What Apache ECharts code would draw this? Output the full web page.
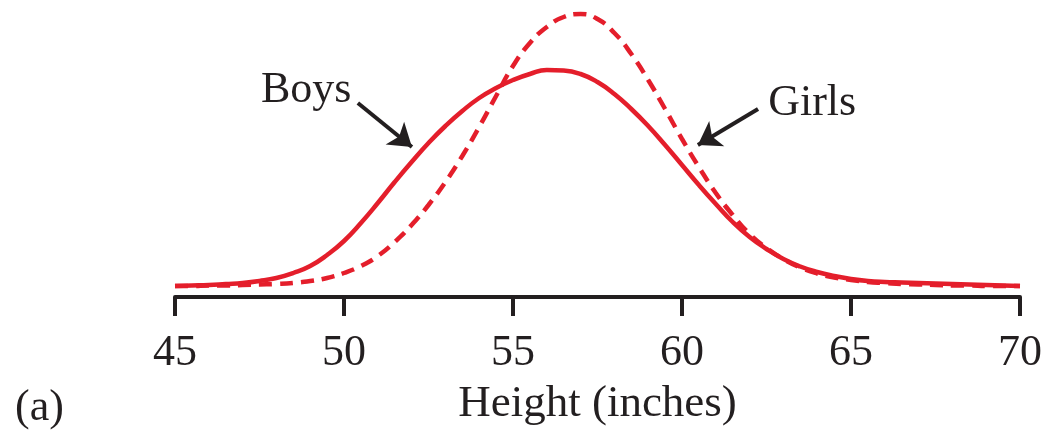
<!DOCTYPE html>
<html>
<head>
<meta charset="utf-8">
<style>
    html, body { margin: 0; padding: 0; overflow: hidden; background: #fff; }
</style>
</head>
<body>
<div id="chart" style="width:1051px; height:434px;"></div>
<script src="https://cdn.jsdelivr.net/npm/echarts@6/dist/echarts.min.js"></script>
<script>
    // heights in inches, read every half inch
    var heights = [45, 45.5, 46, 46.5, 47, 47.5, 48, 48.5, 49, 49.5,
                   50, 50.5, 51, 51.5, 52, 52.5, 53, 53.5, 54, 54.5,
                   55, 55.5, 56, 56.5, 57, 57.5, 58, 58.5, 59, 59.5,
                   60, 60.5, 61, 61.5, 62, 62.5, 63, 63.5, 64, 64.5,
                   65, 65.5, 66, 66.5, 67, 67.5, 68, 68.5, 69, 69.5, 70];
    // relative frequency (arbitrary units)
    var boys = [0, 0.5, 1, 2, 3, 5, 8, 13, 20, 31,
                45, 63, 83, 104, 124, 143, 160, 175, 188, 198,
                206, 212, 216, 215.5, 212, 204, 192, 177, 160, 141,
                121, 101, 82, 64, 49, 37, 27, 19.5, 14, 10,
                7, 5, 4, 3.5, 3, 2.5, 2, 1.5, 1, 0.5, 0];
    var girls = [0, 0, 0.5, 0.5, 1, 1.5, 2, 3, 5, 8,
                 13, 20, 30, 44, 61, 81, 104, 130, 159, 190,
                 220, 243, 259, 269, 272, 267, 253, 232, 206, 177,
                 147, 119, 93, 71, 52, 38, 27, 18.5, 12.5, 8.5,
                 6, 4, 3, 2, 1.5, 1, 0.5, 0.5, 0, 0, 0];
    var tickLabels = [45, 50, 55, 60, 65, 70];

    var red = '#e41e2b';
    var ink = '#231f20';
    var serif = 'Liberation Serif';

    function pairs(vals) {
        return heights.map(function (h, i) { return [h, vals[i]]; });
    }

    var chart = echarts.init(document.getElementById('chart'), null, {renderer: 'canvas'});

    chart.setOption({
        animation: false,
        backgroundColor: '#fff',
        grid: {left: 175, right: 31, top: 6, bottom: 137, containLabel: false, outerBoundsMode: 'none'},
        xAxis: {
            type: 'value',
            min: 45,
            max: 70,
            interval: 5,
            name: 'Height (inches)',
            nameLocation: 'middle',
            nameGap: 85,
            nameMoveOverlap: false,
            nameTextStyle: {fontFamily: serif, fontSize: 45, color: ink},
            axisLine: {show: true, onZero: false, lineStyle: {color: ink, width: 4}},
            axisTick: {show: true, length: 19, lineStyle: {color: ink, width: 4}},
            axisLabel: {
                fontFamily: serif, fontSize: 44, color: ink, margin: 34,
                formatter: function (v) { return tickLabels.indexOf(v) >= 0 ? String(v) : ''; }
            },
            splitLine: {show: false}
        },
        yAxis: {type: 'value', min: -11, max: 280, show: false},
        series: [
            {
                name: 'Boys',
                type: 'line',
                data: pairs(boys),
                smooth: true,
                symbol: 'none',
                clip: false,
                lineStyle: {color: red, width: 4.5},
                markPoint: {
                    silent: true,
                    symbolSize: 0,
                    label: {show: true, fontFamily: serif, fontSize: 44, color: ink, position: 'inside'},
                    data: [
                        {coord: [48.88, 196], value: 'Boys', label: {formatter: 'Boys'}},
                        {coord: [63.85, 183], value: 'Girls', label: {formatter: 'Girls'}}
                    ]
                },
                markLine: {
                    silent: true,
                    symbol: ['none', 'arrow'],
                    symbolSize: 22,
                    label: {show: false},
                    lineStyle: {color: ink, width: 4, type: 'solid'},
                    data: [
                        [{coord: [50.41, 183]}, {coord: [52.01, 139]}],
                        [{coord: [62.25, 177]}, {coord: [60.47, 141]}]
                    ]
                }
            },
            {
                name: 'Girls',
                type: 'line',
                data: pairs(girls),
                smooth: true,
                symbol: 'none',
                clip: false,
                lineStyle: {color: red, width: 4.5, type: [13, 8]}
            }
        ],
        graphic: [
            {
                type: 'text',
                left: 15,
                top: 386,
                style: {text: '(a)', font: '44px "Liberation Serif"', fill: ink}
            }
        ]
    });
</script>
</body>
</html>
